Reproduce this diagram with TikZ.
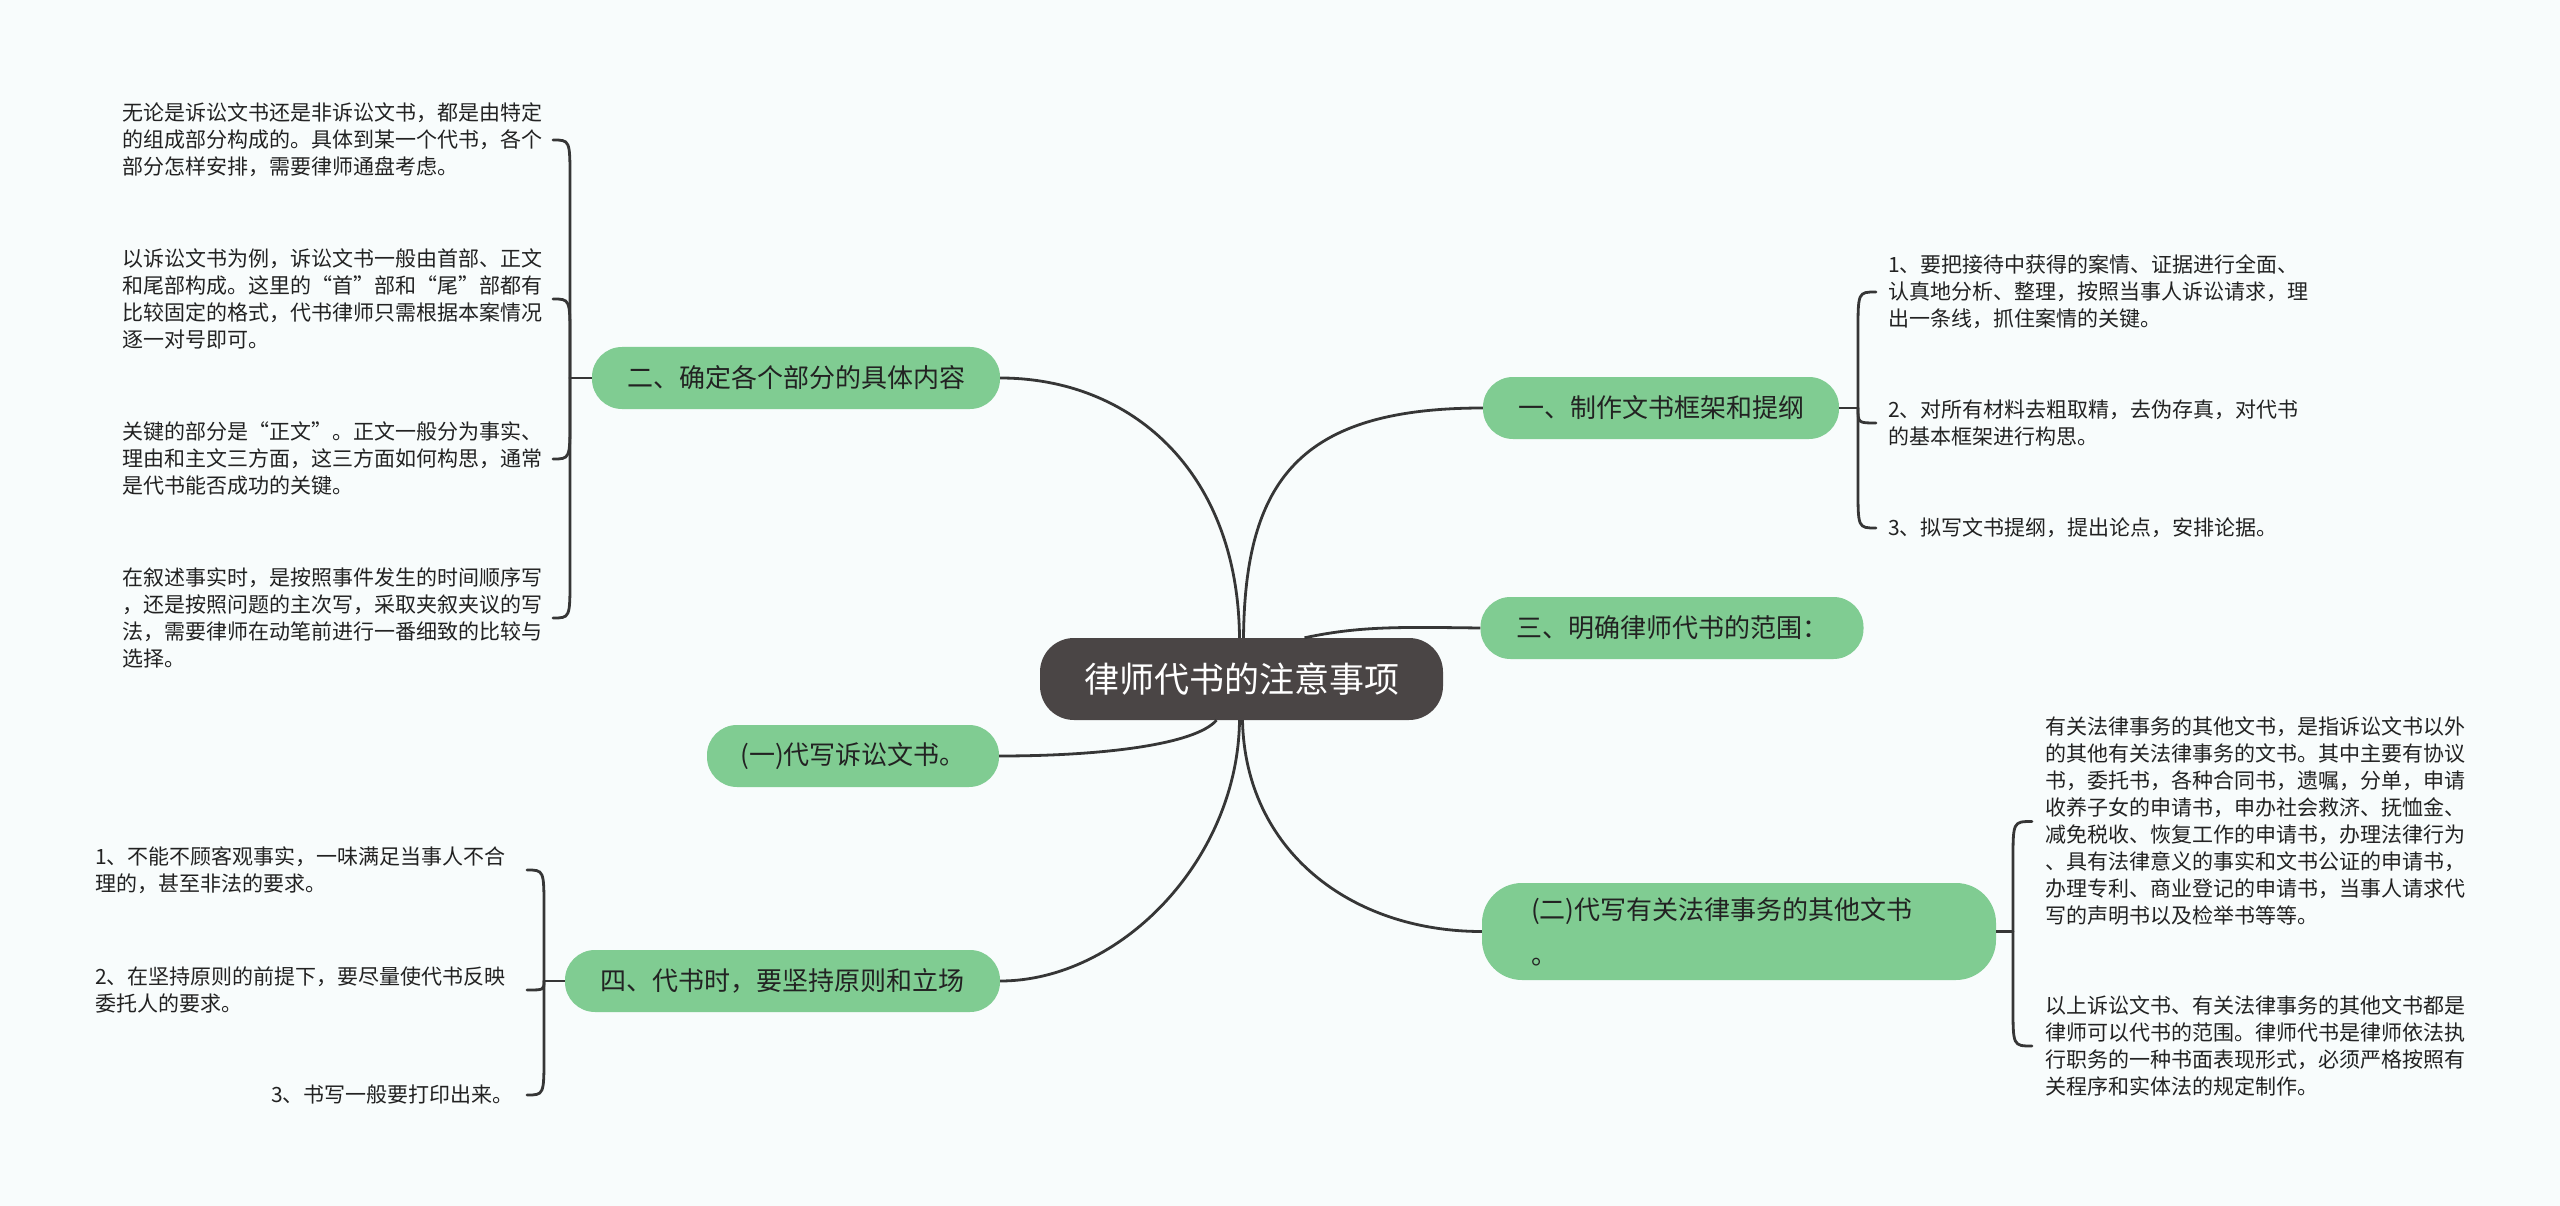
\documentclass[tikz,border=0pt]{standalone}
\usepackage{fontspec}
\setmainfont{Noto Sans CJK SC}
\usetikzlibrary{calc}
\definecolor{bgc}{HTML}{F8FCFC}
\definecolor{pillgreen}{HTML}{80CC92}
\definecolor{rootfill}{HTML}{4A4545}
\definecolor{linec}{HTML}{363636}
\definecolor{txtc}{HTML}{222222}
\begin{document}
\begin{tikzpicture}[x=1pt,y=-1pt,
  rootbox/.style={fill=rootfill, text=white, rounded corners=34pt, minimum width=403pt, minimum height=82pt, inner sep=0pt, font=\fontsize{35pt}{42pt}\selectfont},
  branch/.style={fill=pillgreen, text=txtc, rounded corners=30pt, minimum height=62pt, inner sep=0pt, font=\fontsize{26pt}{32pt}\selectfont},
  leaf/.style={inner sep=0pt, align=left, text=txtc, font=\fontsize{21pt}{27pt}\selectfont},
  con/.style={draw=linec, line width=2.8pt},
  brc/.style={draw=linec, line width=2.8pt, line cap=round}]
\fill[bgc] (0,0) rectangle (2560,1206);
\useasboundingbox (0,0) rectangle (2560,1206);

% root and branches
\node[rootbox] (root) at (1241.5,679) {律师代书的注意事项};
\node[branch, minimum width=408pt] (b2) at (796,378) {二、确定各个部分的具体内容};
\node[branch, minimum width=356pt] (b1) at (1661,408) {一、制作文书框架和提纲};
\node[branch, minimum width=383pt] (b3) at (1672,628) {三、明确律师代书的范围：};
\node[branch, minimum width=292pt] (b4) at (853,756) {(一)代写诉讼文书。};
\node[branch, rounded corners=40pt, minimum width=514pt, minimum height=97pt, inner xsep=49pt, text width=416pt, align=left, font=\fontsize{26pt}{45pt}\selectfont] (b5) at (1739,931.5) {(二)代写有关法律事务的其他文书\\。};
\node[branch, minimum width=435pt] (b6) at (782.5,981) {四、代书时，要坚持原则和立场};

% root connectors
\draw[con] ([xshift=-2pt]root.north) .. controls (1238,470) and (1130,378) .. (b2.east);
\draw[con] ([xshift=2pt]root.north) .. controls (1245,480) and (1300,408) .. (b1.west);
\draw[con] ([xshift=63pt]root.north) .. controls (1360,626) and (1400,627) .. (b3.west);
\draw[con] ([xshift=-25pt]root.south) .. controls (1195,745) and (1100,756) .. (b4.east);
\draw[con] ([xshift=1pt]root.south) .. controls (1245,850) and (1350,931.5) .. (b5.west);
\draw[con] ([xshift=-2pt]root.south) .. controls (1238,860) and (1120,981) .. (b6.east);

% leaves of 二
\node[leaf, anchor=east] (l21) at (543,140) {无论是诉讼文书还是非诉讼文书，都是由特定\\的组成部分构成的。具体到某一个代书，各个\\部分怎样安排，需要律师通盘考虑。};
\node[leaf, anchor=east] (l22) at (543,299) {以诉讼文书为例，诉讼文书一般由首部、正文\\和尾部构成。这里的“首”部和“尾”部都有\\比较固定的格式，代书律师只需根据本案情况\\逐一对号即可。};
\node[leaf, anchor=east] (l23) at (543,459) {关键的部分是“正文”。正文一般分为事实、\\理由和主文三方面，这三方面如何构思，通常\\是代书能否成功的关键。};
\node[leaf, anchor=east] (l24) at (543,618) {在叙述事实时，是按照事件发生的时间顺序写\\，还是按照问题的主次写，采取夹叙夹议的写\\法，需要律师在动笔前进行一番细致的比较与\\选择。};
\coordinate (j2) at (570,378);
\draw[con] (b2.west) -- (j2);
\draw[brc] (j2) -- ($(j2 |- l21)+(0,40)$) .. controls (j2 |- l21) .. ($(j2 |- l21)+(-17,0)$);
\draw[brc] (j2) -- ($(j2 |- l22)+(0,40)$) .. controls (j2 |- l22) .. ($(j2 |- l22)+(-17,0)$);
\draw[brc] (j2) -- ($(j2 |- l23)+(0,-40)$) .. controls (j2 |- l23) .. ($(j2 |- l23)+(-17,0)$);
\draw[brc] (j2) -- ($(j2 |- l24)+(0,-40)$) .. controls (j2 |- l24) .. ($(j2 |- l24)+(-17,0)$);

% leaves of 一
\node[leaf, anchor=west] (l11) at (1888,292) {1、要把接待中获得的案情、证据进行全面、\\认真地分析、整理，按照当事人诉讼请求，理\\出一条线，抓住案情的关键。};
\node[leaf, anchor=west] (l12) at (1888,423) {2、对所有材料去粗取精，去伪存真，对代书\\的基本框架进行构思。};
\node[leaf, anchor=west] (l13) at (1888,528) {3、拟写文书提纲，提出论点，安排论据。};
\coordinate (j1) at (1858,408);
\draw[con] (b1.east) -- (j1);
\draw[brc] (j1) -- ($(j1 |- l11)+(0,40)$) .. controls (j1 |- l11) .. ($(j1 |- l11)+(18,0)$);
\draw[brc] (j1) .. controls (j1 |- l12) .. ($(j1 |- l12)+(18,0)$);
\draw[brc] (j1) -- ($(j1 |- l13)+(0,-40)$) .. controls (j1 |- l13) .. ($(j1 |- l13)+(18,0)$);

% leaves of (二)
\node[leaf, anchor=west] (l51) at (2045,821.5) {有关法律事务的其他文书，是指诉讼文书以外\\的其他有关法律事务的文书。其中主要有协议\\书，委托书，各种合同书，遗嘱，分单，申请\\收养子女的申请书，申办社会救济、抚恤金、\\减免税收、恢复工作的申请书，办理法律行为\\、具有法律意义的事实和文书公证的申请书，\\办理专利、商业登记的申请书，当事人请求代\\写的声明书以及检举书等等。};
\node[leaf, anchor=west] (l52) at (2045,1046) {以上诉讼文书、有关法律事务的其他文书都是\\律师可以代书的范围。律师代书是律师依法执\\行职务的一种书面表现形式，必须严格按照有\\关程序和实体法的规定制作。};
\coordinate (j5) at (2013,931.5);
\draw[con] (b5.east) -- (j5);
\draw[brc] (j5) -- ($(j5 |- l51)+(0,40)$) .. controls (j5 |- l51) .. ($(j5 |- l51)+(19,0)$);
\draw[brc] (j5) -- ($(j5 |- l52)+(0,-40)$) .. controls (j5 |- l52) .. ($(j5 |- l52)+(19,0)$);

% leaves of 四
\node[leaf, anchor=east] (l61) at (506,870) {1、不能不顾客观事实，一味满足当事人不合\\理的，甚至非法的要求。};
\node[leaf, anchor=east] (l62) at (506,990) {2、在坚持原则的前提下，要尽量使代书反映\\委托人的要求。};
\node[leaf, anchor=east] (l63) at (514,1095) {3、书写一般要打印出来。};
\coordinate (j6) at (544,981);
\draw[con] (b6.west) -- (j6);
\draw[brc] (j6) -- ($(j6 |- l61)+(0,40)$) .. controls (j6 |- l61) .. ($(j6 |- l61)+(-17,0)$);
\draw[brc] (j6) .. controls (j6 |- l62) .. ($(j6 |- l62)+(-17,0)$);
\draw[brc] (j6) -- ($(j6 |- l63)+(0,-40)$) .. controls (j6 |- l63) .. ($(j6 |- l63)+(-17,0)$);
\end{tikzpicture}
\end{document}
